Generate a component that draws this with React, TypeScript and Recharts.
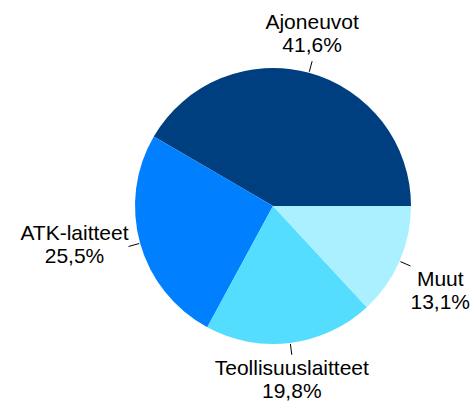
import { Cell, Pie, PieChart } from "recharts";

const categories = ["Ajoneuvot", "ATK-laitteet", "Teollisuuslaitteet", "Muut"];
const shares = [41.6, 25.5, 19.8, 13.1];
const colors = ["#003f7f", "#0080ff", "#55ddff", "#aaf0ff"];

const data = categories.map((name, i) => ({ name, value: shares[i] }));

const RADIAN = Math.PI / 180;
const FONT_SIZE = 21;
const FONT_FAMILY = "'Liberation Sans', Arial, sans-serif";
const LINE_H = 23;

let ctx: CanvasRenderingContext2D | null = null;
function textWidth(s: string) {
  if (!ctx) ctx = document.createElement("canvas").getContext("2d");
  if (!ctx) return s.length * FONT_SIZE * 0.55;
  ctx.font = `${FONT_SIZE}px ${FONT_FAMILY}`;
  return ctx.measureText(s).width;
}

// leader tick plus two-line label, box placed against the tick end
function renderLabel(props: any) {
  const { cx, cy, midAngle, outerRadius, name, value } = props;
  const c = Math.cos(midAngle * RADIAN);
  const s = Math.sin(midAngle * RADIAN);
  const x1 = cx + (outerRadius + 1) * c;
  const y1 = cy - (outerRadius + 1) * s;
  const x2 = cx + (outerRadius + 12) * c;
  const y2 = cy - (outerRadius + 12) * s;
  const pct = `${Number(value).toFixed(1).replace(".", ",")}%`;
  const hw = Math.max(textWidth(name), textWidth(pct)) / 2;
  const hh = LINE_H + 3;
  const deg = ((midAngle % 180) + 180) % 180;
  const devH = Math.min(deg, 180 - deg);
  let kx = Math.sign(c);
  let ky = Math.sign(-s);
  if (devH < 20) ky = 0;
  else if (devH > 70) kx = 0;
  const bx = x2 + kx * hw;
  const by = y2 + ky * hh;
  return (
    <g>
      <line x1={x1} y1={y1} x2={x2} y2={y2} stroke="#000" strokeWidth={1} />
      <text
        x={bx}
        textAnchor="middle"
        fontSize={FONT_SIZE}
        fontFamily={FONT_FAMILY}
        fill="#000"
      >
        <tspan x={bx} y={by - 6}>
          {name}
        </tspan>
        <tspan x={bx} y={by + 17}>
          {pct}
        </tspan>
      </text>
    </g>
  );
}

export default function App() {
  return (
    <div style={{ position: "absolute", left: 0, top: 0, background: "#fff" }}>
      <PieChart
        width={475}
        height={408}
        margin={{ top: 0, right: 0, bottom: 0, left: 0 }}
      >
        <Pie
          data={data}
          dataKey="value"
          nameKey="name"
          cx={273}
          cy={206}
          outerRadius={138}
          startAngle={0}
          endAngle={360}
          stroke="none"
          labelLine={false}
          label={renderLabel}
          isAnimationActive={false}
        >
          {data.map((d, i) => (
            <Cell key={d.name} fill={colors[i]} />
          ))}
        </Pie>
      </PieChart>
    </div>
  );
}
